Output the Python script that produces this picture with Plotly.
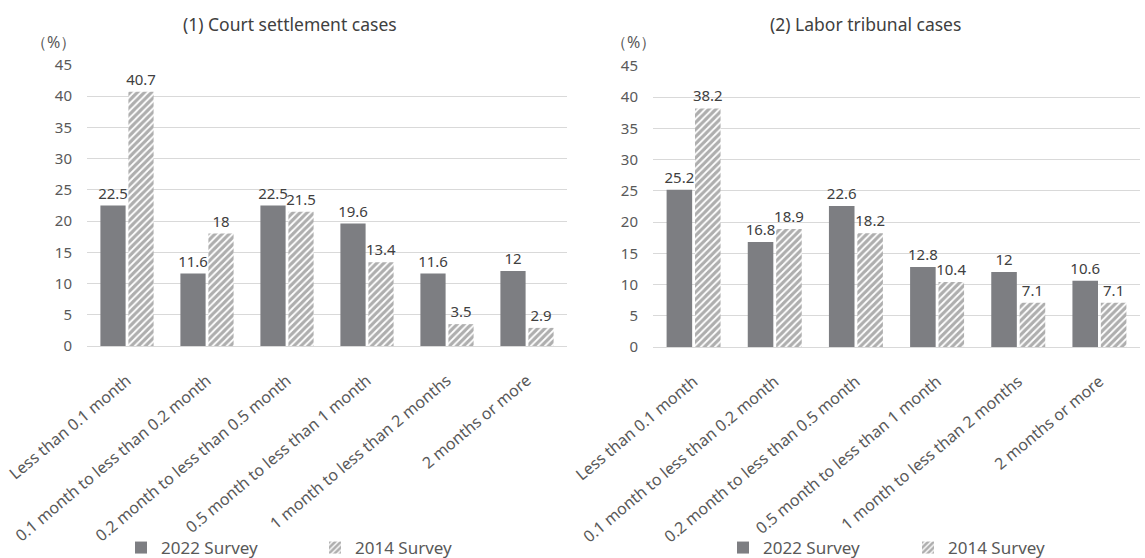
import plotly.graph_objects as go

categories = ["Less than 0.1 month", "0.1 month to less than 0.2 month",
              "0.2 month to less than 0.5 month", "0.5 month to less than 1 month",
              "1 month to less than 2 months", "2 months or more"]
court_2022 = [22.5, 11.6, 22.5, 19.6, 11.6, 12]
court_2014 = [40.7, 18, 21.5, 13.4, 3.5, 2.9]
labor_2022 = [25.2, 16.8, 22.6, 12.8, 12, 10.6]
labor_2014 = [38.2, 18.9, 18.2, 10.4, 7.1, 7.1]
y_ticks = [0, 5, 10, 15, 20, 25, 30, 35, 40, 45]

FONT = "Noto Sans"
TXT = "#404040"
DARK = "#7d7e82"

W, H = 1145, 558

def px_x(a, b):
    return [a / W, b / W]

def px_y(top, bottom):
    return [1 - bottom / H, 1 - top / H]

fig = go.Figure()

def add_pair(v22, v14, xa, ya, leg):
    fig.add_trace(go.Bar(
        x=categories, y=v22, name="2022 Survey", xaxis=xa, yaxis=ya, legend=leg,
        marker=dict(color=DARK, line=dict(width=0)),
        text=[f"{v:g}" for v in v22], textposition="outside", constraintext="none",
        cliponaxis=False, textfont=dict(family=FONT, size=15, color=TXT),
    ))
    fig.add_trace(go.Bar(
        x=categories, y=v14, name="2014 Survey", xaxis=xa, yaxis=ya, legend=leg,
        marker=dict(color="white", line=dict(width=0),
                    pattern=dict(shape="/", fgcolor="#5e5e5e", bgcolor="white",
                                 size=5, solidity=0.65)),
        text=[f"{v:g}" for v in v14], textposition="outside", constraintext="none",
        cliponaxis=False, textfont=dict(family=FONT, size=15, color=TXT),
    ))

add_pair(court_2022, court_2014, "x", "y", "legend")
add_pair(labor_2022, labor_2014, "x2", "y2", "legend2")

ax_common = dict(showgrid=False, showline=True, linecolor="#d9d9d9", linewidth=1,
                 ticks="", tickangle=-40, automargin=False, ticklabelstandoff=18,
                 tickfont=dict(family=FONT, size=16, color="#595959"))
ay_common = dict(range=[0, 45], tickvals=y_ticks, showgrid=True, gridcolor="#d9d9d9",
                 gridwidth=1, zeroline=False, showline=False, ticks="",
                 ticklabelstandoff=14, automargin=False,
                 tickfont=dict(family=FONT, size=15, color="#595959"))

leg_common = dict(orientation="h", font=dict(family=FONT, size=17, color="#595959"),
                  yanchor="middle", xanchor="left", entrywidthmode="pixels",
                  bgcolor="rgba(0,0,0,0)", itemwidth=30, tracegroupgap=0)

fig.update_layout(
    width=W, height=H, margin=dict(l=0, r=0, t=0, b=0, autoexpand=False),
    paper_bgcolor="white", plot_bgcolor="white",
    barmode="group", bargap=0.3, bargroupgap=0.1,
    font=dict(family=FONT, color=TXT),
    xaxis=dict(domain=px_x(87, 567), anchor="y", **ax_common),
    yaxis=dict(domain=px_y(65, 346), anchor="x", **ay_common),
    xaxis2=dict(domain=px_x(653, 1140), anchor="y2", **ax_common),
    yaxis2=dict(domain=px_y(66, 347), anchor="x2", **ay_common),
    legend=dict(x=121 / W, y=1 - 548 / H, entrywidth=149, **leg_common),
    legend2=dict(x=723 / W, y=1 - 548 / H, entrywidth=140, **leg_common),
    annotations=[
        dict(text="(1) Court settlement cases", x=290 / W, y=1 - 24 / H, xref="paper", yref="paper",
             showarrow=False, xanchor="center", yanchor="middle",
             font=dict(family=FONT, size=17.5, color=TXT)),
        dict(text="(2) Labor tribunal cases", x=865 / W, y=1 - 24 / H, xref="paper", yref="paper",
             showarrow=False, xanchor="center", yanchor="middle",
             font=dict(family=FONT, size=17.5, color=TXT)),
        dict(text="（%）", x=53 / W, y=1 - 42 / H, xref="paper", yref="paper",
             showarrow=False, xanchor="center", yanchor="middle",
             font=dict(family=FONT, size=16, color="#595959")),
        dict(text="（%）", x=633 / W, y=1 - 42 / H, xref="paper", yref="paper",
             showarrow=False, xanchor="center", yanchor="middle",
             font=dict(family=FONT, size=16, color="#595959")),
    ],
)

fig.write_html("out.html")
